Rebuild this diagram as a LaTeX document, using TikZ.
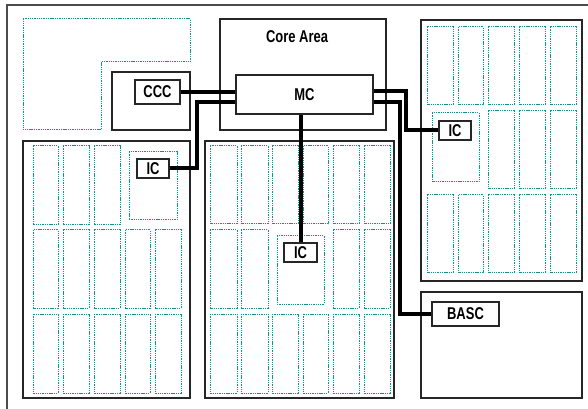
\documentclass[tikz,border=0pt]{standalone}
\usepackage{fontspec}
\setmainfont{Liberation Sans}[FakeStretch=0.76]
\begin{document}
\begin{tikzpicture}[x=0.75pt,y=-0.75pt,
  frame/.style={draw=black!85,line width=1.1pt},
  outer/.style={draw=black!70,line width=1.8pt},
  slot/.style={draw={rgb,255:red,10;green,150;blue,140},line width=0.75pt,dash pattern=on 1pt off 0.7pt},
  lbl/.style={draw=black!85,fill=white,line width=1pt,inner sep=0pt,font=\bfseries\fontsize{12.8}{12.8}\selectfont},
  wire/.style={draw=black,line width=3pt,line join=miter}]
\useasboundingbox (0,0) rectangle (588,409);
% outer frame
\draw[outer] (7,420) -- (7,5) -- (600,5);
% top-left L-shaped region
\draw[slot] (23,19) -- (190,19) -- (190,62) -- (101,62) -- (101,130) -- (23,130) -- cycle;
% blocks
\draw[frame] (112,72) rectangle (190,130);
\draw[frame] (220,19) rectangle (386,130);
\draw[frame] (23,141) rectangle (190,398);
\draw[frame] (205,141) rectangle (394,398);
\draw[frame] (421,20) rectangle (582,281);
\draw[frame] (421,292) rectangle (582,398);
% left block slots
\foreach \a/\b in {33/58,63/89,94/120} \draw[slot] (\a,146) rectangle (\b,225);
\foreach \a/\b in {33/58,63/89,94/120,125/150,155/181} {
  \draw[slot] (\a,230) rectangle (\b,308);
  \draw[slot] (\a,314) rectangle (\b,393);}
\draw[slot] (129,152) rectangle (177,220);
% middle block slots
\foreach \a/\b in {210/237,241/268,272/298,303/328,333/359,364/390} {
  \draw[slot] (\a,146) rectangle (\b,224);
  \draw[slot] (\a,314) rectangle (\b,393);}
\foreach \a/\b in {210/237,241/268,333/359,364/390} \draw[slot] (\a,230) rectangle (\b,308);
\draw[slot] (277,236) rectangle (324,304);
% right block slots
\foreach \a/\b in {427/453,458/483,488/514,519/545,550/576} {
  \draw[slot] (\a,27) rectangle (\b,105);
  \draw[slot] (\a,195) rectangle (\b,273);}
\foreach \a/\b in {488/514,519/545,550/576} \draw[slot] (\a,111) rectangle (\b,189);
\draw[slot] (432,113) rectangle (479,182);
% labels
\node[font=\bfseries\fontsize{12.8}{12.8}\selectfont] (core) at (297,37) {Core Area};
\node[lbl,minimum width=45*0.75pt,minimum height=24*0.75pt] (CCC) at (157.5,92) {CCC};
\node[lbl,minimum width=137*0.75pt,minimum height=39*0.75pt] (MC) at (304.5,94.5) {MC};
\node[lbl,minimum width=32*0.75pt,minimum height=19*0.75pt] (IC1) at (153,168.5) {IC};
\node[lbl,minimum width=33*0.75pt,minimum height=19*0.75pt] (IC2) at (300.5,252.5) {IC};
\node[lbl,minimum width=32*0.75pt,minimum height=19*0.75pt] (IC3) at (455,130.5) {IC};
\node[lbl,minimum width=67*0.75pt,minimum height=24*0.75pt] (BASC) at (465.5,314) {BASC};
% connection points on MC
\coordinate (mcL2) at (236,102);
\coordinate (mcR1) at (373,91);
\coordinate (mcR2) at (373,102);
% wires
\draw[wire] (CCC.east) -- (CCC.east -| MC.west);
\draw[wire] (mcL2) -- (197,102) |- (IC1.east);
\draw[wire] (mcR1) -- (406,91) |- (IC3.west);
\draw[wire] (mcR2) -- (400,102) |- (BASC.west);
\draw[wire] (IC2.north |- MC.south) -- (IC2.north);
% redraw node boxes above wires
\node[lbl,minimum width=45*0.75pt,minimum height=24*0.75pt] at (CCC) {CCC};
\node[lbl,minimum width=137*0.75pt,minimum height=39*0.75pt] at (MC) {MC};
\node[lbl,minimum width=32*0.75pt,minimum height=19*0.75pt] at (IC1) {IC};
\node[lbl,minimum width=33*0.75pt,minimum height=19*0.75pt] at (IC2) {IC};
\node[lbl,minimum width=32*0.75pt,minimum height=19*0.75pt] at (IC3) {IC};
\node[lbl,minimum width=67*0.75pt,minimum height=24*0.75pt] at (BASC) {BASC};
\end{tikzpicture}
\end{document}
